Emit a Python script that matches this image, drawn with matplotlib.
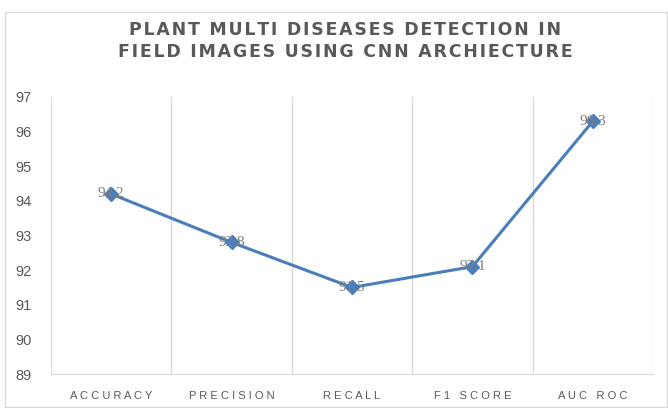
import matplotlib
matplotlib.use('Agg')
import matplotlib.pyplot as plt
from matplotlib.patches import Rectangle

# data
categories = ['ACCURACY', 'PRECISION', 'RECALL', 'F1 SCORE', 'AUC ROC']
scores = [94.2, 92.8, 91.5, 92.1, 96.3]
yticks = [89, 90, 91, 92, 93, 94, 95, 96, 97]
title_lines = ['PLANT MULTI DISEASES DETECTION IN', 'FIELD IMAGES USING CNN ARCHIECTURE']

def spaced(s, sep='\u2009'):
    # fake letter spacing
    return sep.join(s)

plt.rcParams['font.family'] = ['Liberation Sans', 'DejaVu Sans']

fig = plt.figure(figsize=(6.68, 4.08), dpi=100)
fig.patch.set_facecolor('white')

# chart border
fig.add_artist(Rectangle((5 / 668, 0.002), 662 / 668, 1 - 12 / 408 - 0.002, transform=fig.transFigure,
                         fill=False, edgecolor='#d9d9d9', linewidth=1))

ax = fig.add_axes([51 / 668, 1 - 374 / 408, 602 / 668, 277 / 408])
x = list(range(len(categories)))
ax.plot(x, scores, color='#4a7ebb', linewidth=2.2, marker='D', markersize=7, zorder=3)
for xi, v in zip(x, scores):
    ax.text(xi, v, f'{v:g}', ha='center', va='center', fontsize=11, color='#7f7f7f',
            family='Liberation Serif', zorder=4)

ax.set_xlim(-0.5, len(categories) - 0.5)
ax.set_ylim(89, 97)
ax.set_yticks(yticks)
ax.set_yticklabels([str(t) for t in yticks], fontsize=10.5, color='#595959')
ax.set_xticks(x)
ax.set_xticklabels([spaced(c, ' ') for c in categories], fontsize=8, color='#595959')
ax.tick_params(length=0, pad=12)
ax.tick_params(axis='y', pad=14)

# vertical gridlines between categories
for b in [i + 0.5 for i in range(len(categories))]:
    ax.axvline(b, color='#d9d9d9', linewidth=1, zorder=1)

for side in ['top', 'right']:
    ax.spines[side].set_visible(False)
for side in ['left', 'bottom']:
    ax.spines[side].set_color('#d9d9d9')

fig.text(345 / 668, 1 - 41 / 408, '\n'.join(spaced(l, '\u200a') for l in title_lines),
         ha='center', va='center', fontsize=12.5, fontweight='bold', color='#595959',
         linespacing=1.3, family='DejaVu Sans')

fig.savefig('out.png', dpi=100)
